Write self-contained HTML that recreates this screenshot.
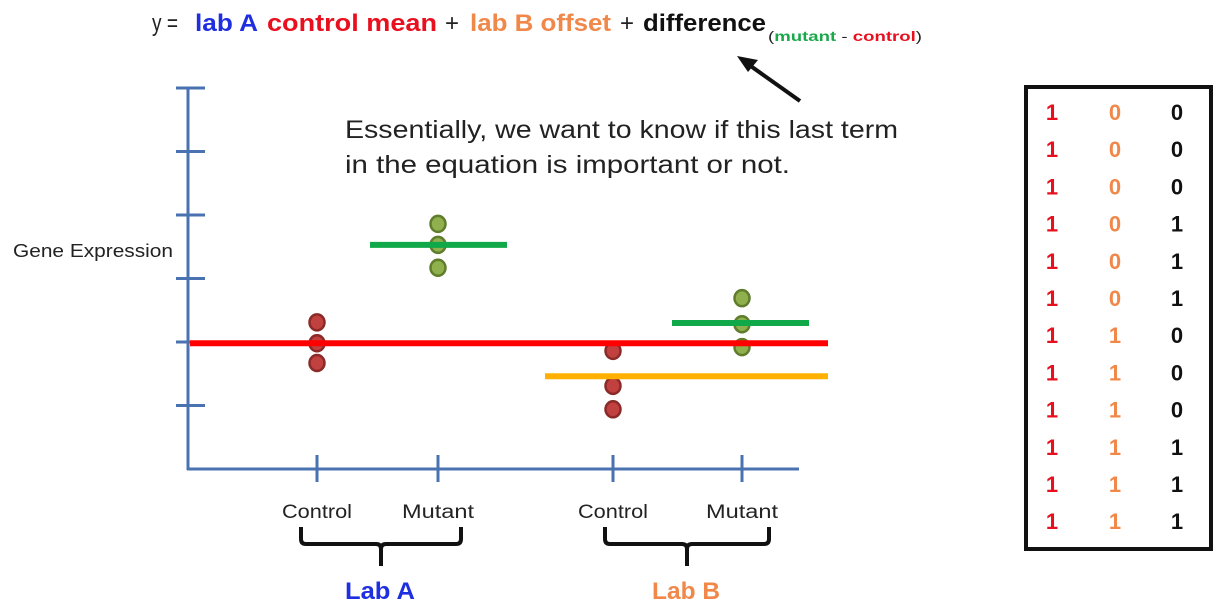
<!DOCTYPE html>
<html><head><meta charset="utf-8"><style>
html,body{margin:0;padding:0;background:#fff;width:1226px;height:616px;overflow:hidden}
svg{display:block;font-family:"Liberation Sans",sans-serif}
</style></head><body>
<svg id="chart" width="1226" height="616" viewBox="0 0 1226 616">
<g font-size="24">
<text x="152" y="31" textLength="26" lengthAdjust="spacingAndGlyphs" fill="#222">y =</text>
<text x="195" y="31" textLength="63" lengthAdjust="spacingAndGlyphs" fill="#1f2fe0" font-weight="bold">lab A</text>
<text x="267" y="31" textLength="170" lengthAdjust="spacingAndGlyphs" fill="#e8101e" font-weight="bold">control mean</text>
<text x="445" y="31" fill="#222">+</text>
<text x="470" y="31" textLength="141" lengthAdjust="spacingAndGlyphs" fill="#f0884a" font-weight="bold">lab B offset</text>
<text x="620" y="31" fill="#222">+</text>
<text x="643" y="31" textLength="123" lengthAdjust="spacingAndGlyphs" fill="#111" font-weight="bold">difference</text>
<text x="768" y="41" font-size="14" textLength="154" lengthAdjust="spacingAndGlyphs" fill="#222">(<tspan fill="#1aa84a" font-weight="bold">mutant</tspan> - <tspan fill="#e8101e" font-weight="bold">control</tspan>)</text>
</g>
<g>
<line x1="800" y1="101" x2="745" y2="62" stroke="#111" stroke-width="4"/>
<polygon points="737,56 758,60 748,72" fill="#111"/>
</g>
<g font-size="25" fill="#222">
<text x="345" y="138" textLength="553" lengthAdjust="spacingAndGlyphs">Essentially, we want to know if this last term</text>
<text x="345" y="173" textLength="445" lengthAdjust="spacingAndGlyphs">in the equation is important or not.</text>
</g>
<text x="13" y="257" font-size="18" fill="#222" textLength="160" lengthAdjust="spacingAndGlyphs">Gene Expression</text>
<g id="axes"></g>
<g id="marks"></g>
<g>
<rect x="1026" y="87" width="185" height="462" fill="none" stroke="#111" stroke-width="4"/>
<g id="matrix" font-size="22" font-weight="bold" text-anchor="middle"></g>
</g>
<g fill="none" stroke="#111" stroke-width="4">
<path d="M301,527 v12 q0,5 5,5 h70 q5,0 5,5 v17 M381,549 q0,-5 5,-5 h70 q5,0 5,-5 v-12"/>
<path d="M605,527 v12 q0,5 5,5 h72 q5,0 5,5 v17 M687,549 q0,-5 5,-5 h72 q5,0 5,-5 v-12"/>
</g>
<text x="380" y="599" font-size="24" font-weight="bold" fill="#1f2fe0" text-anchor="middle" textLength="70" lengthAdjust="spacingAndGlyphs">Lab A</text>
<text x="686" y="599" font-size="24" font-weight="bold" fill="#f0884a" text-anchor="middle" textLength="68" lengthAdjust="spacingAndGlyphs">Lab B</text>
</svg>
<script>
const categories = ["Control", "Mutant", "Control", "Mutant"];
const catX = [317, 438, 613, 742];
const yTicks = [1, 2, 3, 4, 5, 6];
const pointsControlA = [2.31, 1.98, 1.67];
const pointsMutantA = [3.86, 3.53, 3.17];
const pointsControlB = [1.86, 1.31, 0.94];
const pointsMutantB = [2.69, 2.28, 1.92];
const labAControlMean = 1.98;
const labAMutantMean = 3.53;
const labBControlMean = 1.46;
const labBMutantMean = 2.30;
const matrixCol1 = [1,1,1,1,1,1,1,1,1,1,1,1];
const matrixCol2 = [0,0,0,0,0,0,1,1,1,1,1,1];
const matrixCol3 = [0,0,0,1,1,1,0,0,0,1,1,1];

const NS = "http://www.w3.org/2000/svg";
const y0 = 469, unit = 63.5;
function yScale(v){ return y0 - v*unit; }
function mk(tag, attrs, parent){ const e=document.createElementNS(NS,tag); for(const k in attrs) e.setAttribute(k,attrs[k]); parent.appendChild(e); return e; }
const axes = document.getElementById('axes');
const marks = document.getElementById('marks');
const blue = "#4a72b0";
let e = mk('line',{x1:188,y1:yScale(6),x2:188,y2:y0+1,stroke:blue,'stroke-width':3},axes);


e = mk('line',{x1:187,y1:y0,x2:799,y2:y0,stroke:blue,'stroke-width':3},axes);


yTicks.forEach(t=>{
  const l = mk('line',{x1:176,x2:205,y1:yScale(t),y2:yScale(t),stroke:blue,'stroke-width':3},axes);
  
  
});
categories.forEach((c,i)=>{
  const l = mk('line',{x1:catX[i],x2:catX[i],y1:455,y2:482,stroke:blue,'stroke-width':3},axes);
  
  
  const t = mk('text',{x:catX[i],y:518,'font-size':19,'text-anchor':'middle',fill:'#222',textLength:i%2?72:70,lengthAdjust:'spacingAndGlyphs'},axes);
  t.textContent = c;
  
  
});
function meanLine(v,x1,x2,color,name){
  const l = mk('line',{x1:x1,x2:x2,y1:yScale(v),y2:yScale(v),stroke:color,'stroke-width':6},marks);
  
  
}
function dots(arr,x,fill,stroke,name){
  arr.forEach(v=>{
    const c = mk('ellipse',{cx:x,cy:yScale(v),rx:7.5,ry:8,fill:fill,stroke:stroke,'stroke-width':2.5},marks);
    
    
  });
}
dots(pointsControlA,catX[0],"#c0413f","#8b2a28",'control-a-point');
dots(pointsMutantA,catX[1],"#8fb04c","#5f7d2c",'mutant-a-point');
dots(pointsControlB,catX[2],"#c0413f","#8b2a28",'control-b-point');
dots(pointsMutantB,catX[3],"#8fb04c","#5f7d2c",'mutant-b-point');
meanLine(labAMutantMean,370,507,"#10a848",'lab-a-mutant-mean');
meanLine(labBMutantMean,672,809,"#10a848",'lab-b-mutant-mean');
meanLine(labBControlMean,545,828,"#ffb000",'lab-b-control-mean');
meanLine(labAControlMean,190,828,"#ff0000",'lab-a-control-mean');

const mat = document.getElementById('matrix');
const cols = [[matrixCol1,1052,"#e8101e"],[matrixCol2,1115,"#f0884a"],[matrixCol3,1177,"#111"]];
matrixCol1.forEach((_,r)=>{
  cols.forEach(([arr,x,col])=>{
    const t = mk('text',{x:x,y:120+r*37.2,fill:col},mat);
    t.textContent = arr[r];
    
    
  });
});
</script>
</body></html>
